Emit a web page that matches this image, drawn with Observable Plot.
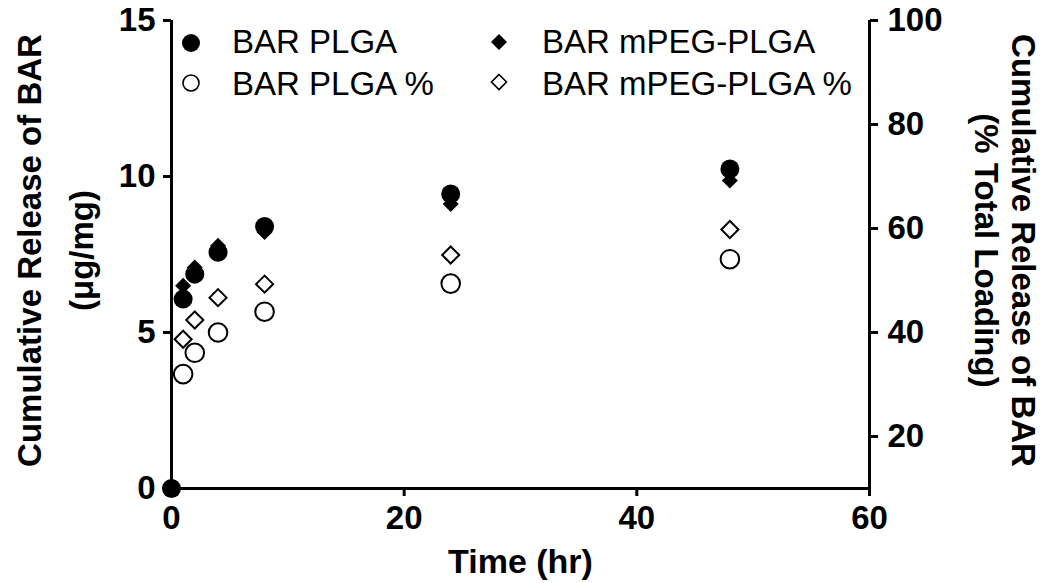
<!DOCTYPE html>
<html><head><meta charset="utf-8">
<script src="https://cdn.jsdelivr.net/npm/d3@7"></script>
<script src="https://cdn.jsdelivr.net/npm/@observablehq/plot@0.6"></script>
<style>
body{margin:0;background:#fff;}
#wrap{position:relative;width:1042px;height:583px;}
#legend{position:absolute;left:0;top:0;pointer-events:none;}
</style></head><body><div id="wrap"></div>
<script>
// ---- data ----
const times = [0, 1, 2, 4, 8, 24, 48];
const plga = [0, 6.07, 6.87, 7.57, 8.40, 9.44, 10.24];
const mpeg = [0, 6.50, 7.08, 7.78, 8.22, 9.12, 9.87];
const pctTimes = [1, 2, 4, 8, 24, 48];
const plgaPct = [32.0, 36.1, 40.0, 44.0, 49.4, 54.1];
const mpegPct = [38.7, 42.4, 46.7, 49.3, 54.9, 59.8];
const xTicks = [0, 20, 40, 60];
const leftTicks = [0, 5, 10, 15];
const rightTicks = [20, 40, 60, 80, 100];
const xDomain = [0, 60];
const leftDomain = [0, 15];
const rightDomain = [10, 100];
const seriesNames = ["BAR PLGA", "BAR PLGA %", "BAR mPEG-PLGA", "BAR mPEG-PLGA %"];
const xTitle = "Time (hr)";
const leftTitle = ["Cumulative Release of BAR", "(μg/mg)"];
const rightTitle = ["Cumulative Release of BAR", "(% Total Loading)"];

// map right-axis (%) values onto the left y scale
const toLeft = p => leftDomain[0] + (p - rightDomain[0]) * (leftDomain[1] - leftDomain[0]) / (rightDomain[1] - rightDomain[0]);
const fromLeft = v => rightDomain[0] + (v - leftDomain[0]) * (rightDomain[1] - rightDomain[0]) / (leftDomain[1] - leftDomain[0]);

const rowsPLGA = times.map((t, i) => ({t, v: plga[i]}));
const rowsMPEG = times.map((t, i) => ({t, v: mpeg[i]}));
const rowsPLGAPct = pctTimes.map((t, i) => ({t, v: toLeft(plgaPct[i])}));
const rowsMPEGPct = pctTimes.map((t, i) => ({t, v: toLeft(mpegPct[i])}));

const font = "'Liberation Sans', Arial, Helvetica, sans-serif";
const W = 1042, H = 583;
const mL = 171, mR = 173, mT = 20, mB = 95;
const tickFont = 33;
const titleFont = 33;

const chart = Plot.plot({
  width: W, height: H,
  marginLeft: mL, marginRight: mR, marginTop: mT, marginBottom: mB,
  x: {domain: xDomain},
  y: {domain: leftDomain},
  style: {fontFamily: font, background: "white", color: "black", overflow: "visible"},
  marks: [
    Plot.axisX(xTicks, {tickSize: 8, tickPadding: 9, fontSize: tickFont, fontWeight: "bold", strokeWidth: 3, label: null}),
    Plot.axisY(leftTicks, {anchor: "left", tickSize: 8, tickPadding: 8, fontSize: tickFont, fontWeight: "bold", strokeWidth: 3, label: null}),
    Plot.axisY(rightTicks.map(toLeft), {anchor: "right", tickSize: 8, tickPadding: 10, fontSize: tickFont, fontWeight: "bold", strokeWidth: 3,
      tickFormat: d => String(Math.round(fromLeft(d))), label: null}),
    Plot.ruleX([xDomain[0]], {strokeWidth: 3}),
    Plot.ruleX([xDomain[1]], {strokeWidth: 3}),
    Plot.ruleY([leftDomain[0]], {strokeWidth: 3, strokeLinecap: "square"}),
    Plot.dot(rowsPLGAPct, {x: "t", y: "v", r: 9.3, stroke: "black", strokeWidth: 2, fill: "white"}),
    Plot.dot(rowsMPEGPct, {x: "t", y: "v", r: 7.7, symbol: "diamond2", stroke: "black", strokeWidth: 2, fill: "white"}),
    Plot.dot(rowsMPEG, {x: "t", y: "v", r: 7.2, symbol: "diamond2", fill: "black", stroke: "none"}),
    Plot.dot(rowsPLGA, {x: "t", y: "v", r: 9.5, fill: "black", stroke: "none"}),
    Plot.text([leftTitle[0]], {frameAnchor: "left", textAnchor: "middle", lineAnchor: "middle", dx: -141, dy: -4, rotate: -90, fontSize: titleFont, fontWeight: "bold"}),
    Plot.text([leftTitle[1]], {frameAnchor: "left", textAnchor: "middle", lineAnchor: "middle", dx: -89, dy: -4, rotate: -90, fontSize: titleFont, fontWeight: "bold"}),
    Plot.text([rightTitle[0]], {frameAnchor: "right", textAnchor: "middle", lineAnchor: "middle", dx: 153, dy: -4, rotate: 90, fontSize: titleFont, fontWeight: "bold"}),
    Plot.text([rightTitle[1]], {frameAnchor: "right", textAnchor: "middle", lineAnchor: "middle", dx: 116, dy: -4, rotate: 90, fontSize: titleFont, fontWeight: "bold"}),
    Plot.text([xTitle], {frameAnchor: "bottom", textAnchor: "middle", lineAnchor: "middle", dy: 74, fontSize: 34, fontWeight: "bold"})
  ]
});
const wrap = document.getElementById("wrap");
wrap.appendChild(chart);

// ---- legend overlay ----
const ns = "http://www.w3.org/2000/svg";
const lg = document.createElementNS(ns, "svg");
lg.setAttribute("id", "legend");
lg.setAttribute("width", W); lg.setAttribute("height", H);
const items = [
  {name: seriesNames[0], sym: "circle", filled: true, cx: 191, cy: 43, tx: 232, by: 53},
  {name: seriesNames[1], sym: "circle", filled: false, cx: 191, cy: 83, tx: 232, by: 95},
  {name: seriesNames[2], sym: "diamond", filled: true, cx: 499, cy: 42, tx: 542, by: 53},
  {name: seriesNames[3], sym: "diamond", filled: false, cx: 499, cy: 82, tx: 542, by: 95}
];
for (const it of items) {
  let el;
  if (it.sym === "circle") {
    el = document.createElementNS(ns, "circle");
    el.setAttribute("cx", it.cx); el.setAttribute("cy", it.cy);
    el.setAttribute("r", it.filled ? 9 : 8);
  } else {
    const h = it.filled ? 8 : 7.5;
    el = document.createElementNS(ns, "path");
    el.setAttribute("d", `M${it.cx},${it.cy - h}L${it.cx + h},${it.cy}L${it.cx},${it.cy + h}L${it.cx - h},${it.cy}Z`);
  }
  el.setAttribute("fill", it.filled ? "black" : "white");
  el.setAttribute("stroke", "black");
  el.setAttribute("stroke-width", it.filled ? 0 : 1.6);
  lg.appendChild(el);
  const tx = document.createElementNS(ns, "text");
  tx.setAttribute("x", it.tx); tx.setAttribute("y", it.by);
  tx.setAttribute("font-family", font);
  tx.setAttribute("font-size", 33);
  tx.setAttribute("fill", "black");
  tx.textContent = it.name;
  lg.appendChild(tx);
}
wrap.appendChild(lg);
</script></body></html>
